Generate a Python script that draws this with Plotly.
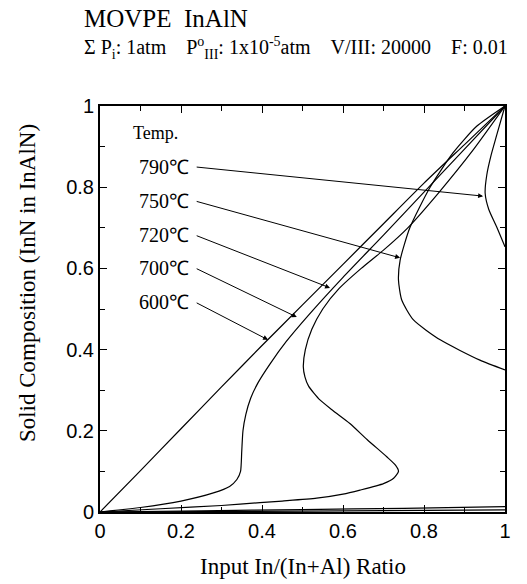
import plotly.graph_objects as go

# ---- data ----
temps = ["600℃", "700℃", "720℃", "750℃", "790℃"]

x600 = [0, 0.1, 0.2, 0.3, 0.4, 0.5, 0.6, 0.7, 0.8, 0.9, 1.0]
y600 = [0, 0.102, 0.205, 0.308, 0.41, 0.51, 0.61, 0.71, 0.81, 0.905, 1.0]

x700 = [0, 0.1, 0.2, 0.28, 0.32, 0.338, 0.347, 0.35, 0.353, 0.36, 0.372, 0.39,
        0.42, 0.46, 0.515, 0.6, 0.7, 0.8, 0.9, 1.0]
y700 = [0, 0.011, 0.027, 0.047, 0.063, 0.08, 0.1, 0.15, 0.2, 0.24, 0.28, 0.318,
        0.365, 0.42, 0.485, 0.578, 0.682, 0.788, 0.894, 1.0]

x720 = [0, 0.15, 0.3, 0.395, 0.45, 0.535, 0.6, 0.642, 0.70, 0.725, 0.737, 0.73,
        0.708, 0.66, 0.617, 0.575, 0.543, 0.515, 0.506, 0.502, 0.507, 0.523,
        0.55, 0.59, 0.645, 0.70, 0.76, 0.835, 0.92, 1.0]
y720 = [0, 0.008, 0.016, 0.023, 0.027, 0.034, 0.044, 0.054, 0.07, 0.083, 0.1, 0.115,
        0.136, 0.178, 0.218, 0.25, 0.276, 0.31, 0.333, 0.358, 0.40, 0.45,
        0.50, 0.55, 0.60, 0.645, 0.70, 0.785, 0.89, 1.0]

x750 = [0, 0.25, 0.5, 0.75, 1.0, None,
        1.0, 0.938, 0.84, 0.774, 0.745, 0.737, 0.741, 0.765, 0.815, 0.872, 0.93, 1.0]
y750 = [0, 0.003, 0.006, 0.009, 0.013, None,
        0.35, 0.374, 0.424, 0.473, 0.522, 0.571, 0.62, 0.70, 0.80, 0.885, 0.95, 1.0]

x790 = [0, 0.5, 1.0, None,
        1.0, 0.979, 0.96, 0.951, 0.955, 0.966, 0.98, 1.0]
y790 = [0, 0.002, 0.005, None,
        0.653, 0.703, 0.745, 0.785, 0.83, 0.88, 0.93, 1.0]

series_x = [x600, x700, x720, x750, x790]
series_y = [y600, y700, y720, y750, y790]

arrow_tip_x = [0.415, 0.486, 0.568, 0.741, 0.946]
arrow_tip_y = [0.424, 0.48, 0.552, 0.626, 0.778]
label_y = [0.517, 0.601, 0.682, 0.766, 0.85]

tick_vals = [0, 0.2, 0.4, 0.6, 0.8, 1.0]
tick_text = ["0", "0.2", "0.4", "0.6", "0.8", "1"]
minor_vals = [0.1, 0.3, 0.5, 0.7, 0.9]

SERIF = "Liberation Serif, Times New Roman, serif"
SANS = "Liberation Sans, Arial, sans-serif"
SP = "\u00a0"

fig = go.Figure()
for t, xs, ys in zip(temps, series_x, series_y):
    fig.add_trace(go.Scatter(x=xs, y=ys, mode="lines", name=t,
                             line=dict(color="black", width=1.2, shape="spline", smoothing=0.6),
                             connectgaps=False, showlegend=False, hoverinfo="skip"))

ann = []
for t, tx, ty, ly in zip(temps, arrow_tip_x, arrow_tip_y, label_y):
    ann.append(dict(x=0.225, y=ly, xref="x", yref="y", text=t, showarrow=False,
                    xanchor="right", yanchor="middle",
                    font=dict(family=SERIF, size=20, color="black")))
    ann.append(dict(x=tx, y=ty, ax=0.235, ay=ly, xref="x", yref="y", axref="x", ayref="y",
                    text="", showarrow=True, arrowhead=2, arrowsize=1.0, arrowwidth=1,
                    arrowcolor="black", standoff=0, startstandoff=0))
ann.append(dict(x=0.136, y=0.933, xref="x", yref="y", text="Temp.", showarrow=False,
                xanchor="center", yanchor="middle",
                font=dict(family=SERIF, size=18, color="black")))

# titles
ann.append(dict(x=-0.044, y=1.216, xref="paper", yref="paper", text="MOVPE" + SP * 2 + "InAlN",
                showarrow=False, xanchor="left", yanchor="middle",
                font=dict(family=SERIF, size=25, color="black")))
sub = ("Σ" + SP + "P<sub>i</sub>: 1atm" + SP * 4 + "P<sup>o</sup><sub>III</sub>: 1x10<sup>-5</sup>atm"
       + SP * 4 + "V/III: 20000" + SP * 4 + "F: 0.01")
ann.append(dict(x=-0.044, y=1.143, xref="paper", yref="paper", text=sub,
                showarrow=False, xanchor="left", yanchor="middle",
                font=dict(family=SERIF, size=20, color="black")))
# axis titles
ann.append(dict(x=0.5, y=-0.135, xref="paper", yref="paper", text="Input In/(In+Al) Ratio",
                showarrow=False, xanchor="center", yanchor="middle",
                font=dict(family=SERIF, size=23, color="black")))
ann.append(dict(x=-0.18, y=0.564, xref="paper", yref="paper", text="Solid Composition (InN in InAlN)",
                showarrow=False, xanchor="center", yanchor="middle", textangle=-90,
                font=dict(family=SERIF, size=23, color="black")))

axis_common = dict(range=[0, 1], tickvals=tick_vals, ticktext=tick_text,
                   ticks="inside", ticklen=7, tickwidth=1, tickcolor="black",
                   minor=dict(tickvals=minor_vals, ticks="inside", ticklen=5, tickwidth=1, tickcolor="black"),
                   showline=True, linewidth=2, linecolor="black", mirror="ticks",
                   showgrid=False, zeroline=False,
                   tickfont=dict(family=SANS, size=20, color="black"))

fig.update_layout(width=527, height=584, margin=dict(l=100, r=22, t=106, b=72),
                  paper_bgcolor="white", plot_bgcolor="white",
                  xaxis=axis_common, yaxis=axis_common, annotations=ann)

fig.write_html("out.html")
